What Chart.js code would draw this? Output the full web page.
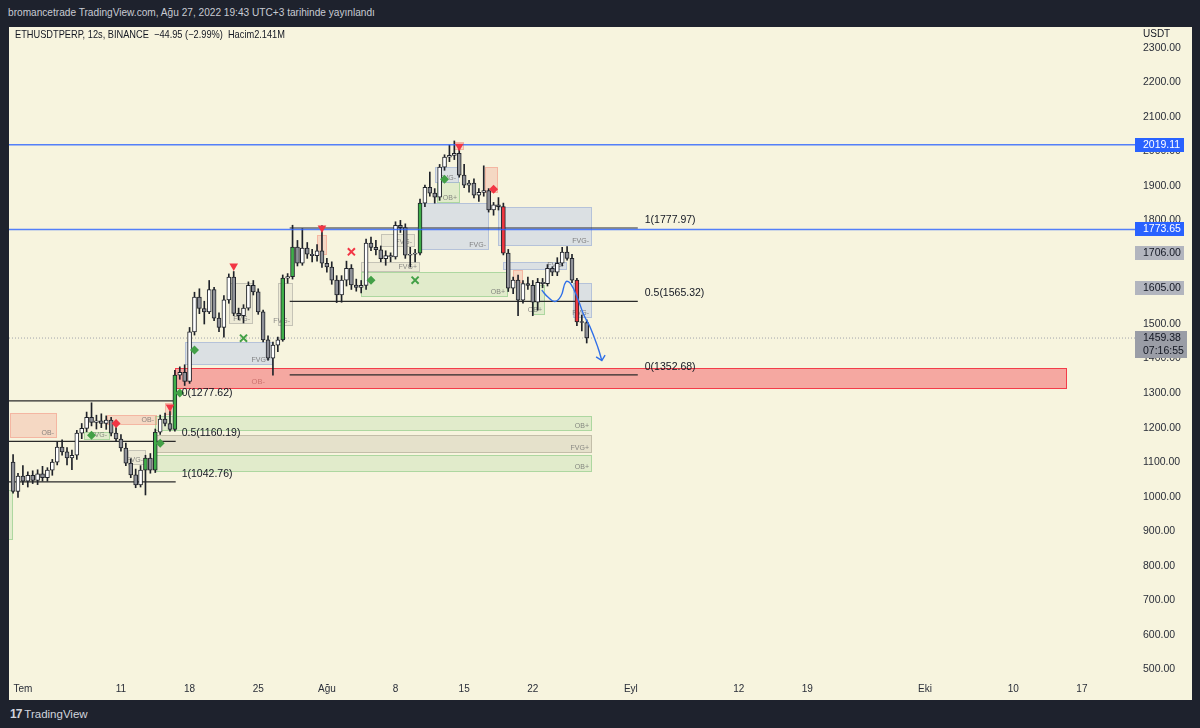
<!DOCTYPE html>
<html lang="tr">
<head>
<meta charset="utf-8">
<title>ETHUSDTPERP 12s</title>
<script src="https://cdn.jsdelivr.net/npm/chart.js@4/dist/chart.umd.min.js"></script>
<style>
html,body{margin:0;padding:0;width:1200px;height:728px;background:#1e222d;overflow:hidden;font-family:"Liberation Sans",Arial,sans-serif;}
#pane{position:absolute;left:9px;top:27px;width:1183px;height:673px;background:#f7f4de;}
#c{position:absolute;left:0;top:0;}
.t{position:absolute;white-space:nowrap;transform-origin:0 50%;line-height:14px;}
#pub{left:8px;top:5px;color:#c8cbd3;font-size:11px;transform:scaleX(0.92);}
#sym{left:15px;top:27px;color:#131722;font-size:10.5px;transform:scaleX(0.88);}
#unit{left:1143px;top:27px;color:#131722;font-size:10px;}
#logo{left:10px;top:707px;color:#d1d4dc;font-size:11.5px;}
#logo b{font-weight:900;letter-spacing:-1px;font-size:12px;}
</style>
</head>
<body>
<div id="pane"><canvas id="c" width="1183" height="673"></canvas></div>
<div class="t" id="pub">bromancetrade TradingView.com, Ağu 27, 2022 19:43 UTC+3 tarihinde yayınlandı</div>
<div class="t" id="sym">ETHUSDTPERP, 12s, BINANCE &nbsp;−44.95 (−2.99%) &nbsp;Hacim2.141M</div>
<div class="t" id="unit">USDT</div>
<div class="t" id="logo"><b>17</b> TradingView</div>
<script>
// ---------- candles (12h) ----------
const candleTimes = [
"06-30 00","06-30 12","07-01 00","07-01 12","07-02 00","07-02 12","07-03 00","07-03 12","07-04 00","07-04 12",
"07-05 00","07-05 12","07-06 00","07-06 12","07-07 00","07-07 12","07-08 00","07-08 12","07-09 00","07-09 12",
"07-10 00","07-10 12","07-11 00","07-11 12","07-12 00","07-12 12","07-13 00","07-13 12","07-14 00","07-14 12",
"07-15 00","07-15 12","07-16 00","07-16 12","07-17 00","07-17 12","07-18 00","07-18 12","07-19 00","07-19 12",
"07-20 00","07-20 12","07-21 00","07-21 12","07-22 00","07-22 12","07-23 00","07-23 12","07-24 00","07-24 12",
"07-25 00","07-25 12","07-26 00","07-26 12","07-27 00","07-27 12","07-28 00","07-28 12","07-29 00","07-29 12",
"07-30 00","07-30 12","07-31 00","07-31 12","08-01 00","08-01 12","08-02 00","08-02 12","08-03 00","08-03 12",
"08-04 00","08-04 12","08-05 00","08-05 12","08-06 00","08-06 12","08-07 00","08-07 12","08-08 00","08-08 12",
"08-09 00","08-09 12","08-10 00","08-10 12","08-11 00","08-11 12","08-12 00","08-12 12","08-13 00","08-13 12",
"08-14 00","08-14 12","08-15 00","08-15 12","08-16 00","08-16 12","08-17 00","08-17 12","08-18 00","08-18 12",
"08-19 00","08-19 12","08-20 00","08-20 12","08-21 00","08-21 12","08-22 00","08-22 12","08-23 00","08-23 12",
"08-24 00","08-24 12","08-25 00","08-25 12","08-26 00","08-26 12","08-27 00","08-27 12"];
const openP = [
1100,1015,1060,1045,1062,1047,1066,1055,1077,1100,
1144,1130,1112,1120,1184,1198,1230,1215,1220,1212,
1222,1184,1167,1141,1097,1063,1034,1077,1112,1077,
1187,1225,1212,1195,1352,1360,1334,1477,1578,1545,
1535,1600,1517,1490,1570,1636,1531,1524,1546,1612,
1593,1535,1454,1401,1439,1454,1633,1637,1723,1676,
1720,1702,1698,1712,1676,1665,1627,1584,1627,1661,
1613,1606,1612,1734,1722,1715,1689,1698,1694,1786,
1779,1699,1702,1705,1850,1896,1879,1867,1954,1983,
1988,1994,1931,1902,1908,1873,1881,1886,1830,1845,
1840,1705,1604,1627,1569,1617,1612,1563,1621,1617,
1661,1650,1676,1708,1690,1627,1506,1504.33];
const highP = [
1122,1068,1090,1072,1075,1078,1088,1084,1108,1158,
1165,1142,1135,1192,1212,1245,1272,1236,1240,1234,
1230,1200,1180,1155,1110,1080,1090,1120,1125,1196,
1236,1242,1248,1366,1376,1382,1490,1592,1602,1566,
1626,1606,1532,1582,1645,1652,1546,1556,1622,1626,
1602,1540,1466,1448,1462,1642,1646,1786,1742,1776,
1736,1716,1730,1785,1690,1680,1640,1640,1682,1672,
1630,1626,1746,1752,1742,1726,1712,1706,1796,1800,
1790,1722,1716,1862,1902,1940,1892,1962,1990,2018,
2030,2016,1962,1916,1920,1892,1958,1892,1852,1866,
1850,1716,1636,1642,1626,1636,1626,1632,1632,1672,
1666,1692,1722,1724,1702,1632,1526,1512];
const lowP = [
1010,998,1035,1028,1038,1035,1045,1045,1062,1092,
1120,1092,1078,1108,1168,1188,1205,1196,1200,1195,
1176,1160,1132,1090,1055,1026,1028,1005,1068,1070,
1180,1205,1190,1190,1340,1322,1328,1468,1530,1500,
1530,1510,1478,1462,1560,1524,1512,1503,1540,1584,
1528,1448,1395,1352,1420,1450,1618,1630,1668,1670,
1690,1680,1682,1664,1650,1615,1562,1563,1610,1600,
1595,1590,1600,1712,1700,1680,1670,1680,1688,1765,
1690,1665,1680,1700,1840,1870,1850,1858,1945,1970,
1976,1925,1895,1882,1865,1855,1870,1824,1815,1830,
1700,1594,1588,1524,1560,1600,1524,1540,1605,1610,
1640,1640,1668,1685,1620,1495,1480,1445];
const closeP = [
1015,1060,1045,1062,1047,1066,1055,1077,1100,1144,
1130,1112,1120,1184,1198,1230,1215,1220,1212,1222,
1184,1167,1141,1097,1063,1034,1077,1112,1077,1187,
1225,1212,1195,1352,1360,1334,1477,1578,1545,1535,
1600,1517,1490,1570,1636,1531,1524,1546,1612,1593,
1535,1454,1401,1439,1454,1633,1637,1723,1676,1720,
1702,1698,1712,1676,1665,1627,1584,1627,1661,1613,
1606,1612,1734,1722,1715,1689,1698,1694,1786,1779,
1699,1702,1705,1850,1896,1879,1867,1954,1983,1988,
1994,1931,1902,1908,1873,1881,1886,1830,1845,1840,
1705,1604,1627,1569,1617,1612,1563,1621,1617,1661,
1650,1676,1708,1690,1627,1506,1504.33,1459.38];
const bullDisplacement = ["07-13 12","07-14 12","07-16 12","07-27 12","07-28 12","08-10 12"];
const bearDisplacement = ["08-19 00","08-26 12"];

// ---------- axes ----------
const xTickTimes = ["07-01 00","07-11 00","07-18 00","07-25 00","08-01 00","08-08 00","08-15 00","08-22 00","09-01 00","09-12 00","09-19 00","10-01 00","10-10 00","10-17 00"];
const xTickLabels = ["Tem","11","18","25","Ağu","8","15","22","Eyl","12","19","Eki","10","17"];
const yTickValues = [500,600,700,800,900,1000,1100,1200,1300,1400,1500,1600,1700,1800,1900,2000,2100,2200,2300];

// ---------- levels ----------
const levelLines = [2019.11, 1773.65];
const lastPrice = 1459.38;
const lastCountdown = "07:16:55";
const markedLevels = [1706.00, 1605.00];
const fibRightLevels = [1777.97, 1565.32, 1352.68];
const fibRightRatios = ["1","0.5","0"];
const fibRightSpan = ["07-28 05","09-01 17"];
const fibLeftLevels = [1277.62, 1160.19, 1042.76];
const fibLeftRatios = ["0","0.5","1"];
const fibLeftSpan = ["06-29 00","07-16 14"];

// ---------- zones (OB / FVG) ----------
const boxStart = ["07-16 12","07-14 12","07-14 12","07-14 12","08-10 07","08-18 12","08-26 02","07-17 12","08-04 12","08-22 00","08-12 05","08-12 00","06-29 17","07-09 14","07-31 00","08-17 02","08-14 00","08-20 00","07-15 12","07-11 17","07-07 05","07-22 00","07-27 00","08-06 12","08-04 12","08-19 00","06-29 00"];
const boxEnd   = ["10-15 12","08-28 00","08-28 00","08-28 00","08-17 12","08-28 00","08-28 00","07-26 12","08-19 12","08-23 07","08-14 14","08-14 12","07-04 12","07-14 17","08-01 00","08-18 10","08-15 00","08-21 00","07-16 05","07-13 14","07-09 22","07-24 12","07-28 12","08-10 00","08-10 12","08-25 12","06-30 01"];
const boxTop    = [1372.6,1233.7,1178.7,1120.7,1850,1840,1618,1448,1650,1613,1911,1955,1242,1236,1757,1955,2027,1656,1271,1135,1187,1620,1620,1762,1679,1679,1019];
const boxBottom = [1311.8,1190.3,1126.5,1071.5,1715,1727,1517,1381,1578,1526,1850,1908,1170,1207,1700,1879,2004,1618,1236,1091,1164,1500,1495,1722,1650,1656,874];
const boxKind = ["obStrong","ob","fvg","ob","fvgBear","fvgBear","fvgBear","fvgBear","ob","ob","ob","fvgBear","obBear","obBear","obBear","obBear","obBear","obBear","obBear","fvgGray","ob","fvgGray","fvgGray","fvgGray","fvgGray","fvgBear","ob"];
const boxLabel = ["OB-","OB+","FVG+","OB+","FVG-","FVG-","FVG-","FVG+","OB+","OB+","OB+","FVG-","OB-","OB-","","","","","","FVG-","FVG-","FVG-","FVG-","FVG-","FVG+","FVG-",""];
const boxLabelTime = ["07-25 00",null,null,null,null,null,null,null,null,null,null,null,null,null,null,null,null,null,null,null,null,null,null,null,null,null,null];

// ---------- hand-drawn projection ----------
const pathTimes  = ["08-22 22","08-23 13","08-24 06","08-24 21","08-25 09","08-25 21","08-26 15","08-27 05","08-27 20","08-28 16","08-29 01"];
const pathPrices = [1598,1578,1565,1581,1622,1616,1570,1526,1492,1430,1394];
const arrowTimes  = ["08-28 11","08-29 01","08-29 09"];
const arrowPrices = [1405,1394,1410];

// ---------- signal markers ----------
const swingHighTimes = ["07-16 00","07-22 12","07-31 12","08-14 12"];
const swingHighPrices = [1260,1668,1778,2015];
const bullDiamondTimes = ["07-08 00","07-15 00","07-17 00","07-18 12","08-05 12","08-13 00"];
const bullDiamondPrices = [1178,1155,1300,1425,1627,1919];
const bearDiamondTimes = ["07-10 12","08-18 00"];
const bearDiamondPrices = [1212,1890];
const bullCrossTimes = ["07-23 12","08-10 00"];
const bullCrossPrices = [1459,1627];
const bearCrossTimes = ["08-03 12"];
const bearCrossPrices = [1709];

// ---------- helpers ----------
const T0 = Date.UTC(2022,6,1,0);
function toDay(s){ return (Date.UTC(2022, +s.slice(0,2)-1, +s.slice(3,5), +s.slice(6,8)) - T0)/86400000; }
const pts = (ts, ps) => ts.map((t,i)=>({x:toDay(t), y:ps[i]}));
const X_MIN = toDay("06-29 14"), X_MAX = toDay("10-22 10");
const Y_MIN = 475.1, Y_MAX = 2359.9;

const boxStyle = {
  obStrong:{fill:"rgba(242,54,69,0.40)", stroke:"rgba(242,54,69,0.95)", text:"rgba(170,70,70,0.55)"},
  ob:{fill:"rgba(76,175,80,0.13)", stroke:"rgba(76,175,80,0.35)", text:"rgba(110,110,110,0.8)"},
  fvg:{fill:"rgba(120,110,90,0.14)", stroke:"rgba(120,110,90,0.30)", text:"rgba(110,110,110,0.8)"},
  fvgBear:{fill:"rgba(200,210,230,0.60)", stroke:"rgba(150,170,210,0.55)", text:"rgba(110,110,110,0.85)"},
  obBear:{fill:"rgba(242,120,100,0.22)", stroke:"rgba(242,120,100,0.35)", text:"rgba(110,110,110,0.8)"},
  fvgGray:{fill:"rgba(120,120,120,0.07)", stroke:"rgba(120,120,120,0.35)", text:"rgba(110,110,110,0.8)"}
};

const bodyColors = candleTimes.map((t,i)=>{
  if (bullDisplacement.includes(t)) return "#3fae49";
  if (bearDisplacement.includes(t)) return "#f0363f";
  return closeP[i] >= openP[i] ? "#ffffff" : "#8f9198";
});

const wickData = candleTimes.map((t,i)=>({x:toDay(t), y:[lowP[i], highP[i]]}));
const bodyData = candleTimes.map((t,i)=>({x:toDay(t), y:[openP[i], closeP[i]]}));

const hLine = (v)=>[{x:X_MIN,y:v},{x:X_MAX,y:v}];
const segLine = (span,v)=>[{x:toDay(span[0]),y:v},{x:toDay(span[1]),y:v}];

const datasets = [];
datasets.push({type:"line", data:pts(pathTimes,pathPrices), borderColor:"#2f6fe8", borderWidth:1.4, tension:0.45, pointRadius:0, fill:false, order:0});
datasets.push({type:"line", data:pts(arrowTimes,arrowPrices), borderColor:"#2f6fe8", borderWidth:1.4, tension:0, pointRadius:0, fill:false, order:0});
datasets.push({type:"line", data:pts(swingHighTimes,swingHighPrices), showLine:false, pointStyle:"triangle", rotation:180, pointRadius:5, backgroundColor:"#f23645", borderColor:"#f23645", borderWidth:0, order:0});
datasets.push({type:"line", data:pts(bullDiamondTimes,bullDiamondPrices), showLine:false, pointStyle:"rectRot", pointRadius:4.5, backgroundColor:"#43a047", borderColor:"#43a047", borderWidth:0, order:0});
datasets.push({type:"line", data:pts(bearDiamondTimes,bearDiamondPrices), showLine:false, pointStyle:"rectRot", pointRadius:4.5, backgroundColor:"#f23645", borderColor:"#f23645", borderWidth:0, order:0});
datasets.push({type:"line", data:pts(bullCrossTimes,bullCrossPrices), showLine:false, pointStyle:"crossRot", pointRadius:5, borderColor:"#43a047", borderWidth:2, order:0});
datasets.push({type:"line", data:pts(bearCrossTimes,bearCrossPrices), showLine:false, pointStyle:"crossRot", pointRadius:5, borderColor:"#f23645", borderWidth:2, order:0});
levelLines.forEach(v=>datasets.push({type:"line", data:hLine(v), borderColor:"rgba(41,98,255,0.8)", borderWidth:1.5, pointRadius:0, order:0}));
datasets.push({type:"line", data:hLine(lastPrice), borderColor:"#a0a3ab", borderWidth:1, borderDash:[1,2], pointRadius:0, order:3});
fibRightLevels.forEach(v=>datasets.push({type:"line", data:segLine(fibRightSpan,v), borderColor:"#2a2a2a", borderWidth:1.2, pointRadius:0, order:3}));
fibLeftLevels.forEach(v=>datasets.push({type:"line", data:segLine(fibLeftSpan,v), borderColor:"#2a2a2a", borderWidth:1.2, pointRadius:0, order:3}));
datasets.push({type:"bar", data:wickData, backgroundColor:"#1f2229", barThickness:1, grouped:false, order:2});
datasets.push({type:"bar", data:bodyData, backgroundColor:bodyColors, borderColor:"#1f2229", borderWidth:1, borderSkipped:false, barThickness:4, minBarLength:1, grouped:false, order:1});

const overlay = {
  id:"overlay",
  beforeDatasetsDraw(chart){
    const {ctx, chartArea:a, scales:{x,y}} = chart;
    ctx.save();
    ctx.beginPath(); ctx.rect(a.left,a.top,a.right-a.left,a.bottom-a.top); ctx.clip();
    boxStart.forEach((s,i)=>{
      const st = boxStyle[boxKind[i]];
      const x1 = Math.round(x.getPixelForValue(toDay(s))), x2 = Math.round(x.getPixelForValue(toDay(boxEnd[i])));
      const y1 = Math.round(y.getPixelForValue(boxTop[i])), y2 = Math.round(y.getPixelForValue(boxBottom[i]));
      ctx.fillStyle = st.fill; ctx.fillRect(x1,y1,x2-x1,y2-y1);
      ctx.strokeStyle = st.stroke; ctx.lineWidth = 1; ctx.strokeRect(x1+0.5,y1+0.5,x2-x1-1,y2-y1-1);
      if (boxLabel[i]) {
        ctx.fillStyle = st.text;
        if (boxLabelTime[i]) {
          ctx.font = "7.5px 'Liberation Sans', Arial"; ctx.textAlign = "center"; ctx.textBaseline = "middle";
          ctx.fillText(boxLabel[i], x.getPixelForValue(toDay(boxLabelTime[i])), (y1+y2)/2+3);
        } else {
          ctx.font = "7px 'Liberation Sans', Arial"; ctx.textAlign = "right"; ctx.textBaseline = "alphabetic";
          ctx.fillText(boxLabel[i], x2-3, y2-3);
        }
      }
    });
    ctx.restore();
  },
  afterDatasetsDraw(chart){
    const {ctx, scales:{x,y}} = chart;
    ctx.save();
    ctx.font = "10.5px 'Liberation Sans', Arial"; ctx.fillStyle = "#131722";
    ctx.textAlign = "left"; ctx.textBaseline = "middle";
    fibRightLevels.forEach((v,i)=>ctx.fillText(fibRightRatios[i]+"("+v.toFixed(2)+")", x.getPixelForValue(toDay(fibRightSpan[1]))+7, y.getPixelForValue(v)-8));
    fibLeftLevels.forEach((v,i)=>ctx.fillText(fibLeftRatios[i]+"("+v.toFixed(2)+")", x.getPixelForValue(toDay(fibLeftSpan[1]))+6, y.getPixelForValue(v)-8));
    ctx.restore();
  },
  afterDraw(chart){
    const {ctx, chartArea:a, scales:{y}} = chart;
    ctx.save();
    ctx.font = "10.5px 'Liberation Sans', Arial"; ctx.textAlign = "left"; ctx.textBaseline = "middle";
    const tag = (v, bg, fg) => {
      const yy = Math.round(y.getPixelForValue(v));
      ctx.fillStyle = bg; ctx.fillRect(a.right, yy-7, 49, 14);
      ctx.fillStyle = fg; ctx.fillText(v.toFixed(2), a.right+8, yy+0.5);
    };
    markedLevels.forEach(v=>tag(v,"#b2b5be","#131722"));
    levelLines.forEach(v=>tag(v,"#2962ff","#ffffff"));
    const ly = Math.round(y.getPixelForValue(lastPrice));
    ctx.fillStyle = "#9a9da6"; ctx.fillRect(a.right, ly-7, 52, 27);
    ctx.fillStyle = "#131722";
    ctx.fillText(lastPrice.toFixed(2), a.right+8, ly+0.5);
    ctx.fillText(lastCountdown, a.right+8, ly+13);
    ctx.restore();
  }
};

const zeroPad = (s)=>{ s.paddingTop = 0; s.paddingBottom = 0; s.paddingLeft = 0; s.paddingRight = 0; };

new Chart(document.getElementById("c"), {
  type:"line",
  data:{datasets},
  plugins:[overlay],
  options:{
    responsive:false, animation:false, devicePixelRatio:1, events:[],
    layout:{padding:0, autoPadding:false},
    plugins:{legend:{display:false}, tooltip:{enabled:false}},
    scales:{
      x:{type:"linear", min:X_MIN, max:X_MAX, offset:false,
         grid:{display:false, drawTicks:false, offset:false}, border:{display:false},
         afterBuildTicks:(s)=>{ s.ticks = xTickTimes.map(t=>({value:toDay(t)})); },
         afterFit:(s)=>{ s.height = 22; zeroPad(s); },
         ticks:{autoSkip:false, maxRotation:0, padding:5, color:"#2a2e39", font:{family:"'Liberation Sans', Arial", size:10},
                callback:(v,i)=>xTickLabels[i]}},
      y:{type:"linear", position:"right", min:Y_MIN, max:Y_MAX,
         grid:{display:false, drawTicks:false}, border:{display:false},
         afterBuildTicks:(s)=>{ s.ticks = yTickValues.map(v=>({value:v})); },
         afterFit:(s)=>{ s.width = 57; zeroPad(s); },
         ticks:{padding:8, color:"#2a2e39", font:{family:"'Liberation Sans', Arial", size:10.5},
                callback:(v)=>Number(v).toFixed(2)}}
    }
  }
});
</script>
</body>
</html>
